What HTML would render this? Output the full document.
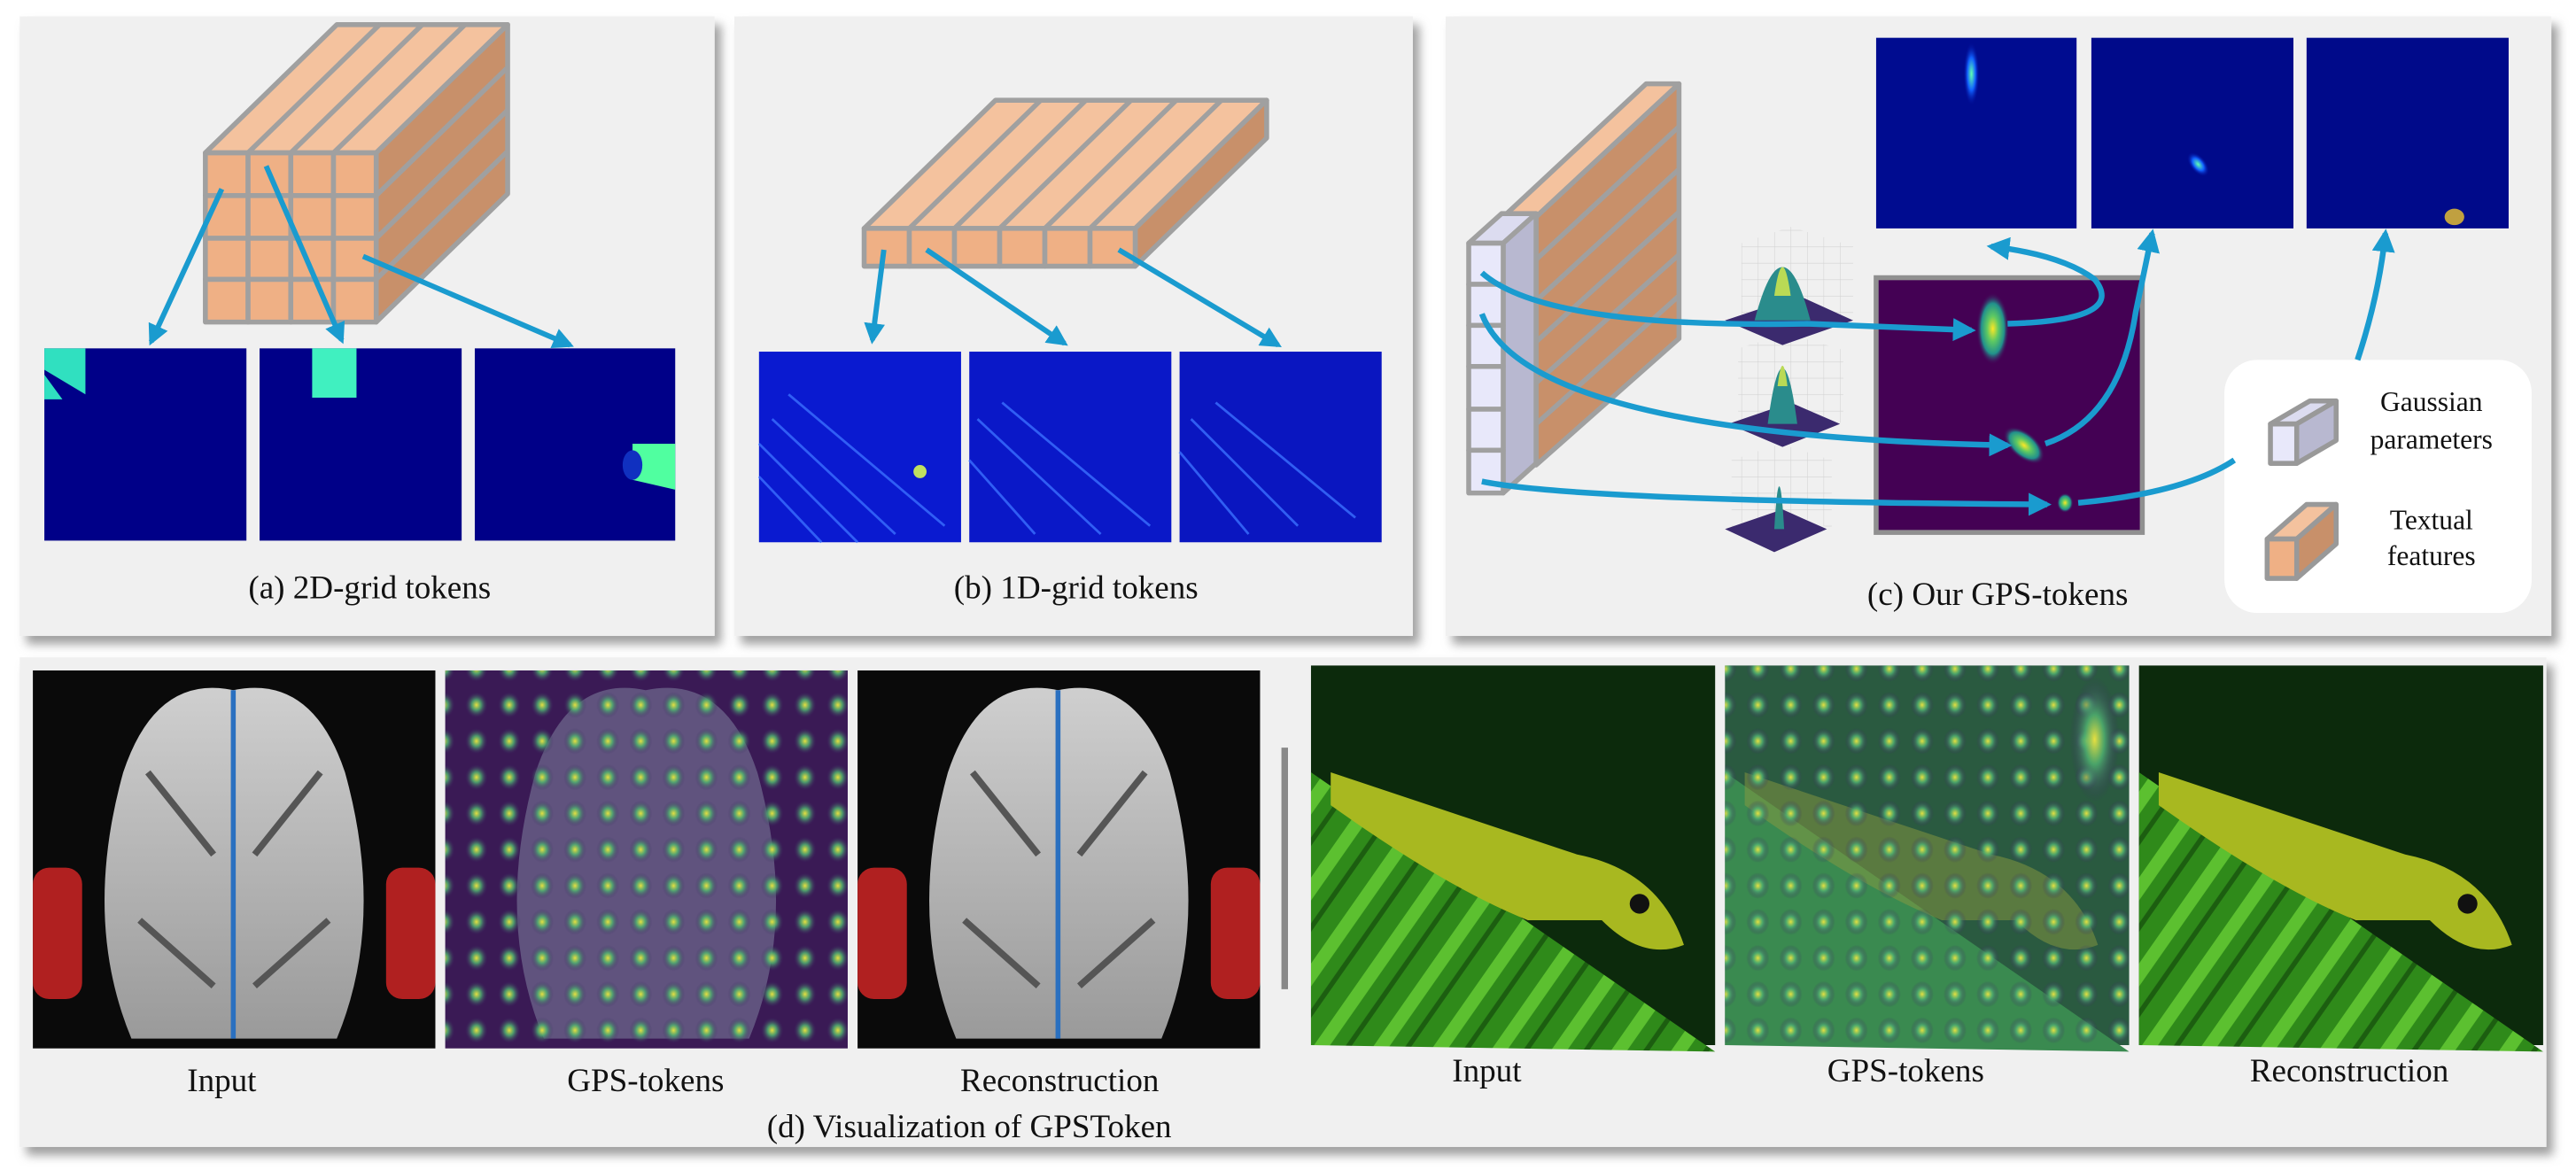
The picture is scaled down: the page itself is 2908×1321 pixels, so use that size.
<!DOCTYPE html>
<html><head><meta charset="utf-8"><style>
html,body{margin:0;padding:0;background:#fff;}
svg{display:block;}
svg text{font-family:"Liberation Serif","DejaVu Serif",serif !important;}
</style></head><body>
<svg width="2908" height="1321" viewBox="0 0 1568 712" preserveAspectRatio="none" xmlns="http://www.w3.org/2000/svg" font-family="Liberation Serif">
<defs>
<marker id="ah" viewBox="0 0 10 10" refX="8" refY="5" markerWidth="4" markerHeight="4" orient="auto"><path d="M0,0 L10,5 L0,10 z" fill="#1a9bcf"/></marker>
<radialGradient id="g1"><stop offset="0" stop-color="#fde725"/><stop offset="0.35" stop-color="#5ec962"/><stop offset="0.7" stop-color="#21918c"/><stop offset="1" stop-color="#440154" stop-opacity="0"/></radialGradient>
<radialGradient id="sp"><stop offset="0" stop-color="#e8e040"/><stop offset="0.4" stop-color="#4fb070" stop-opacity="0.85"/><stop offset="1" stop-color="#3a2060" stop-opacity="0"/></radialGradient>
<pattern id="dots" x="0" y="0" width="20" height="22" patternUnits="userSpaceOnUse"><ellipse cx="10" cy="11" rx="7" ry="8" fill="url(#sp)"/></pattern>
<radialGradient id="hb"><stop offset="0" stop-color="#60ffb0"/><stop offset="0.5" stop-color="#1060ff"/><stop offset="1" stop-color="#00008a" stop-opacity="0"/></radialGradient>
<linearGradient id="shoe" x1="0" y1="0" x2="0" y2="1"><stop offset="0" stop-color="#cfcfcf"/><stop offset="1" stop-color="#9a9a9a"/></linearGradient>
<pattern id="leaf" width="30" height="30" patternUnits="userSpaceOnUse" patternTransform="rotate(35)"><rect width="30" height="30" fill="#2f8a1a"/><rect width="8" height="30" fill="#5cc030"/><rect x="16" width="3" height="30" fill="#1c5e10"/></pattern>
<pattern id="grid" width="10" height="10" patternUnits="userSpaceOnUse"><path d="M10,0 L0,0 0,10" fill="none" stroke="#cfcfcf" stroke-width="0.6"/></pattern>
<filter id="sh" x="-5%" y="-5%" width="115%" height="115%"><feDropShadow dx="4" dy="5" stdDeviation="3" flood-color="#777" flood-opacity="0.7"/></filter>
</defs>

<rect x="12" y="10" width="423" height="377" fill="#f0f0f0" filter="url(#sh)"/>
<rect x="447" y="10" width="413" height="377" fill="#f0f0f0" filter="url(#sh)"/>
<rect x="880" y="10" width="673" height="377" fill="#f0f0f0" filter="url(#sh)"/>
<rect x="12" y="400" width="1538" height="298" fill="#f0f0f0" filter="url(#sh)"/>

<g stroke="#a0a0a0" stroke-width="3" stroke-linejoin="round">
<polygon points="125,93 229,93 309,15 205,15" fill="#f4c29e"/>
<polygon points="229,93 309,15 309,118 229,196" fill="#c8906a"/>
<line x1="151" y1="93" x2="231" y2="15"/><line x1="177" y1="93" x2="257" y2="15"/><line x1="203" y1="93" x2="283" y2="15"/>
<line x1="229" y1="119" x2="309" y2="41"/><line x1="229" y1="145" x2="309" y2="67"/><line x1="229" y1="170" x2="309" y2="92"/>
<g fill="#efb085">
<rect x="125" y="93" width="26" height="26"/><rect x="151" y="93" width="26" height="26"/><rect x="177" y="93" width="26" height="26"/><rect x="203" y="93" width="26" height="26"/>
<rect x="125" y="119" width="26" height="26"/><rect x="151" y="119" width="26" height="26"/><rect x="177" y="119" width="26" height="26"/><rect x="203" y="119" width="26" height="26"/>
<rect x="125" y="145" width="26" height="25"/><rect x="151" y="145" width="26" height="25"/><rect x="177" y="145" width="26" height="25"/><rect x="203" y="145" width="26" height="25"/>
<rect x="125" y="170" width="26" height="26"/><rect x="151" y="170" width="26" height="26"/><rect x="177" y="170" width="26" height="26"/><rect x="203" y="170" width="26" height="26"/>
</g></g>
<rect x="27" y="212" width="123" height="117" fill="#000088"/>
<polygon points="27,212 52,212 52,240 27,225" fill="#30e0c0"/><polygon points="27,228 38,243 27,243" fill="#30e0c0"/>
<rect x="158" y="212" width="123" height="117" fill="#000088"/>
<rect x="190" y="212" width="27" height="30" fill="#40f0c0"/>
<rect x="289" y="212" width="122" height="117" fill="#000088"/>
<polygon points="385,270 411,270 411,298 385,292" fill="#50ffa0"/><ellipse cx="385" cy="283" rx="6" ry="9" fill="#1030c0"/>
<g stroke="#1a9bcf" stroke-width="3.2" fill="none" marker-end="url(#ah)">
<line x1="135" y1="115" x2="92" y2="208"/><line x1="162" y1="101" x2="208" y2="207"/><line x1="221" y1="156" x2="347" y2="210"/>
</g>
<text x="225" y="364" font-size="20" text-anchor="middle" fill="#111">(a) 2D-grid tokens</text>

<g stroke="#a0a0a0" stroke-width="3" stroke-linejoin="round">
<polygon points="526,139 691,139 771,61 606,61" fill="#f4c29e"/>
<polygon points="691,139 771,61 771,84 691,162" fill="#c8906a"/>
<line x1="553.5" y1="139" x2="633.5" y2="61"/><line x1="581" y1="139" x2="661" y2="61"/><line x1="608.5" y1="139" x2="688.5" y2="61"/><line x1="636" y1="139" x2="716" y2="61"/><line x1="663.5" y1="139" x2="743.5" y2="61"/>
<g fill="#efb085"><rect x="526" y="139" width="27.5" height="23"/><rect x="553.5" y="139" width="27.5" height="23"/><rect x="581" y="139" width="27.5" height="23"/><rect x="608.5" y="139" width="27.5" height="23"/><rect x="636" y="139" width="27.5" height="23"/><rect x="663.5" y="139" width="27.5" height="23"/></g>
</g>
<rect x="462" y="214" width="123" height="116" fill="#0a1ad0"/>
<rect x="590" y="214" width="123" height="116" fill="#0a18c8"/>
<rect x="718" y="214" width="123" height="116" fill="#0a16c0"/>
<g stroke="#3a70ff" stroke-width="1.5" opacity="0.8">
<line x1="462" y1="290" x2="500" y2="330"/><line x1="462" y1="270" x2="522" y2="330"/><line x1="470" y1="255" x2="545" y2="325"/><line x1="480" y1="240" x2="575" y2="320"/><line x1="590" y1="280" x2="630" y2="325"/><line x1="595" y1="255" x2="670" y2="325"/><line x1="610" y1="245" x2="700" y2="320"/><line x1="718" y1="275" x2="760" y2="325"/><line x1="725" y1="255" x2="790" y2="320"/><line x1="740" y1="245" x2="825" y2="315"/>
</g>
<ellipse cx="560" cy="287" rx="4" ry="4" fill="#c0e060"/>
<g stroke="#1a9bcf" stroke-width="3.2" fill="none" marker-end="url(#ah)">
<line x1="538" y1="152" x2="531" y2="207"/><line x1="564" y1="152" x2="648" y2="209"/><line x1="681" y1="152" x2="778" y2="210"/>
</g>
<text x="655" y="364" font-size="20" text-anchor="middle" fill="#111">(b) 1D-grid tokens</text>

<g stroke="#a0a0a0" stroke-width="3" stroke-linejoin="round">
<polygon points="915,132 935,132 1022,51 1002,51" fill="#f4c29e"/>
<polygon points="935,132 1022,51 1022,206 935,283" fill="#c8906a"/>
<line x1="935" y1="158" x2="1022" y2="77"/><line x1="935" y1="183" x2="1022" y2="103"/><line x1="935" y1="208" x2="1022" y2="129"/><line x1="935" y1="233" x2="1022" y2="155"/><line x1="935" y1="258" x2="1022" y2="180"/>
<polygon points="894,148 915,148 935,130 914,130" fill="#dcdcf0"/>
<polygon points="915,148 935,130 935,282 915,300" fill="#b8b8d0"/>
<g fill="#e8e8fa"><rect x="894" y="148" width="21" height="25"/><rect x="894" y="173" width="21" height="25"/><rect x="894" y="198" width="21" height="25"/><rect x="894" y="223" width="21" height="26"/><rect x="894" y="249" width="21" height="25"/><rect x="894" y="274" width="21" height="26"/></g>
</g>
<rect x="1142" y="23" width="122" height="116" fill="#000c90"/>
<ellipse cx="1200" cy="45" rx="5" ry="20" fill="url(#hb)"/>
<rect x="1273" y="23" width="123" height="116" fill="#000a8a"/>
<ellipse cx="1338" cy="100" rx="5" ry="9" fill="url(#hb)" transform="rotate(-40 1338 100)"/>
<rect x="1404" y="23" width="123" height="116" fill="#000a8a"/>
<ellipse cx="1494" cy="132" rx="6" ry="5" fill="#c0a040"/>
<g opacity="0.9">
<polygon points="1060,148 1090,138 1090,180 1060,195" fill="url(#grid)"/><polygon points="1090,138 1128,150 1128,195 1090,180" fill="url(#grid)"/>
<polygon points="1058,212 1088,203 1088,245 1058,258" fill="url(#grid)"/><polygon points="1088,203 1122,213 1122,258 1088,245" fill="url(#grid)"/>
<polygon points="1054,280 1084,270 1084,310 1054,322" fill="url(#grid)"/><polygon points="1084,270 1115,280 1115,322 1084,310" fill="url(#grid)"/>
</g>
<polygon points="1050,195 1095,180 1128,195 1085,210" fill="#3b2a6e"/><path d="M1068,195 Q1085,130 1102,195 z" fill="#2a8c8c"/><path d="M1080,180 Q1085,145 1090,180 z" fill="#bada55"/>
<polygon points="1052,258 1090,245 1120,258 1085,272" fill="#3b2a6e"/><path d="M1076,258 Q1085,190 1094,258 z" fill="#2a8c8c"/><path d="M1082,235 Q1085,210 1088,235 z" fill="#bada55"/>
<polygon points="1050,322 1085,310 1112,322 1080,336" fill="#3b2a6e"/><path d="M1080,322 Q1083,270 1086,322 z" fill="#2a8c8c"/>
<rect x="1142" y="169" width="162" height="155" fill="#440154" stroke="#909090" stroke-width="3"/>
<ellipse cx="1213" cy="200" rx="10" ry="22" fill="url(#g1)"/>
<ellipse cx="1232" cy="271" rx="8" ry="15" fill="url(#g1)" transform="rotate(-50 1232 271)"/>
<ellipse cx="1257" cy="306" rx="5" ry="6" fill="url(#g1)"/>
<rect x="1354" y="219" width="187" height="154" rx="20" fill="#fff"/>
<g stroke="#999" stroke-width="3" stroke-linejoin="round">
<polygon points="1382,258 1398,258 1422,244 1406,244" fill="#dcdcf0"/><polygon points="1398,258 1422,244 1422,268 1398,282" fill="#b8b8d0"/><rect x="1382" y="258" width="16" height="24" fill="#e8e8fa"/>
<polygon points="1380,328 1398,328 1422,307 1404,307" fill="#f4c29e"/><polygon points="1398,328 1422,307 1422,331 1398,352" fill="#c8906a"/><rect x="1380" y="328" width="18" height="24" fill="#efb085"/>
</g>
<g font-size="17" text-anchor="middle" fill="#111">
<text x="1480" y="250">Gaussian</text>
<text x="1480" y="273">parameters</text>
<text x="1480" y="322">Textual</text>
<text x="1480" y="344">features</text>
</g>
<g stroke="#1a9bcf" stroke-width="3.5" fill="none">
<path d="M902,166 Q940,200 1100,197 L1200,201" marker-end="url(#ah)"/>
<path d="M902,191 Q930,265 1222,271" marker-end="url(#ah)"/>
<path d="M902,293 Q960,305 1246,307" marker-end="url(#ah)"/>
<path d="M1222,197 Q1295,195 1275,170 Q1255,155 1212,150" marker-end="url(#ah)"/>
<path d="M1245,270 Q1290,255 1300,190 L1310,142" marker-end="url(#ah)"/>
<path d="M1265,306 Q1330,300 1360,280"/>
<path d="M1435,219 Q1448,180 1452,142" marker-end="url(#ah)"/>
</g>
<text x="1216" y="368" font-size="20" text-anchor="middle" fill="#111">(c) Our GPS-tokens</text>

<g>
<rect x="20" y="408" width="245" height="230" fill="#0a0a0a"/>
<rect x="20" y="528" width="30" height="80" rx="10" fill="#b02020"/><rect x="235" y="528" width="30" height="80" rx="10" fill="#b02020"/>
<path d="M142,420 Q95,410 75,470 Q50,560 80,632 L142,632 z" fill="url(#shoe)"/>
<path d="M142,420 Q190,410 210,470 Q235,560 205,632 L142,632 z" fill="url(#shoe)"/>
<path d="M90,470 L130,520 M195,470 L155,520 M85,560 L130,600 M200,560 L155,600" stroke="#555" stroke-width="4"/>
<line x1="142" y1="420" x2="142" y2="632" stroke="#2a70c0" stroke-width="3"/>
</g>
<rect x="271" y="408" width="245" height="230" fill="#3a1a55"/>
<path d="M393,420 Q346,410 326,470 Q301,560 331,632 L456,632 Q486,560 461,470 Q441,410 393,420 z" fill="#7a7a9a" opacity="0.6"/>
<rect x="271" y="408" width="245" height="230" fill="url(#dots)"/>
<g transform="translate(502,0)">
<rect x="20" y="408" width="245" height="230" fill="#0a0a0a"/>
<rect x="20" y="528" width="30" height="80" rx="10" fill="#b02020"/><rect x="235" y="528" width="30" height="80" rx="10" fill="#b02020"/>
<path d="M142,420 Q95,410 75,470 Q50,560 80,632 L142,632 z" fill="url(#shoe)"/>
<path d="M142,420 Q190,410 210,470 Q235,560 205,632 L142,632 z" fill="url(#shoe)"/>
<path d="M90,470 L130,520 M195,470 L155,520 M85,560 L130,600 M200,560 L155,600" stroke="#555" stroke-width="4"/>
<line x1="142" y1="420" x2="142" y2="632" stroke="#2a70c0" stroke-width="3"/>
</g>
<line x1="782" y1="455" x2="782" y2="602" stroke="#888" stroke-width="4"/>
<g>
<rect x="798" y="405" width="246" height="231" fill="#0c2a0c"/>
<polygon points="798,470 1044,640 798,636" fill="url(#leaf)"/>
<path d="M810,470 Q900,500 960,520 Q1010,530 1025,575 Q1000,585 975,560 L930,560 Q880,540 810,490 z" fill="#a8b820"/>
<circle cx="998" cy="550" r="6" fill="#111"/>
</g>
<rect x="1050" y="405" width="246" height="231" fill="#2a5a40"/>
<polygon points="1050,470 1296,640 1050,636" fill="#3a8a50"/>
<path d="M1062,470 Q1152,500 1212,520 Q1262,530 1277,575 Q1252,585 1227,560 L1182,560 Q1132,540 1062,490 z" fill="#8a9a40" opacity="0.5"/>
<rect x="1050" y="405" width="246" height="231" fill="url(#dots)"/>
<ellipse cx="1275" cy="450" rx="15" ry="38" fill="url(#sp)"/>
<g transform="translate(504,0)">
<rect x="798" y="405" width="246" height="231" fill="#0c2a0c"/>
<polygon points="798,470 1044,640 798,636" fill="url(#leaf)"/>
<path d="M810,470 Q900,500 960,520 Q1010,530 1025,575 Q1000,585 975,560 L930,560 Q880,540 810,490 z" fill="#a8b820"/>
<circle cx="998" cy="550" r="6" fill="#111"/>
</g>
<g font-size="20" text-anchor="middle" fill="#111">
<text x="135" y="664">Input</text><text x="393" y="664">GPS-tokens</text><text x="645" y="664">Reconstruction</text>
<text x="905" y="658">Input</text><text x="1160" y="658">GPS-tokens</text><text x="1430" y="658">Reconstruction</text>
<text x="590" y="692">(d) Visualization of GPSToken</text>
</g>
</svg>
</body></html>
